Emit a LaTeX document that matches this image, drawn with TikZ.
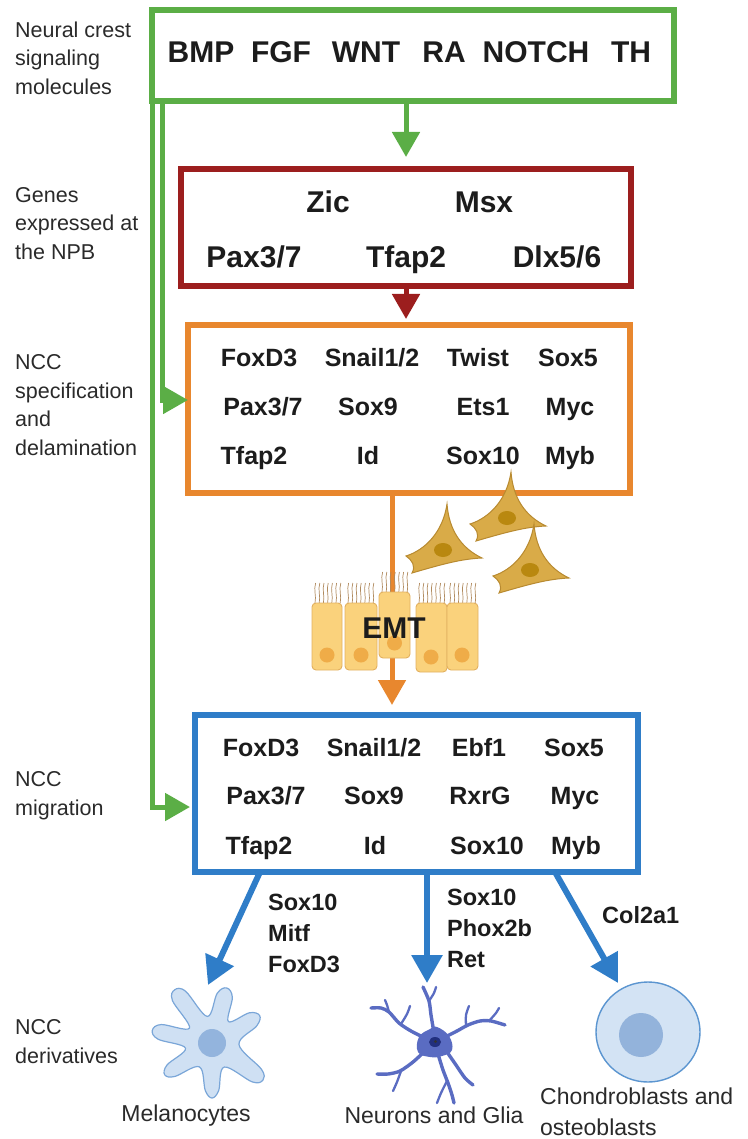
\documentclass[tikz,border=0pt]{standalone}
\usepackage{fontspec}
\setmainfont{Liberation Sans}
\usetikzlibrary{arrows.meta,calc}

\definecolor{sigGreen}{HTML}{5BAE46}
\definecolor{npbRed}{HTML}{9C1E1E}
\definecolor{specOrange}{HTML}{E8872E}
\definecolor{migBlue}{HTML}{2F7DC8}
\definecolor{inkText}{HTML}{1C1C1C}
\definecolor{labelText}{HTML}{2A2A2A}
\definecolor{mesFill}{HTML}{D9AB48}
\definecolor{mesEdge}{HTML}{B88A30}
\definecolor{mesNuc}{HTML}{B98810}
\definecolor{epiFill}{HTML}{FAD27C}
\definecolor{epiEdge}{HTML}{E2B060}
\definecolor{epiNuc}{HTML}{EFAC48}
\definecolor{ciliaCol}{HTML}{B08A5E}
\definecolor{melFill}{HTML}{CFE0F3}
\definecolor{melEdge}{HTML}{7AA6D8}
\definecolor{melNuc}{HTML}{93B4DD}
\definecolor{neuFill}{HTML}{5A6CC2}
\definecolor{neuNuc}{HTML}{22307E}
\definecolor{chFill}{HTML}{D3E3F4}
\definecolor{chEdge}{HTML}{5B95D0}
\definecolor{chNuc}{HTML}{93B3DB}

\tikzset{
  stagebox/.style={draw=#1, line width=5.5pt, minimum width=0pt, minimum height=0pt,
    inner sep=0pt, outer sep=0pt, rectangle},
  gene/.style={anchor=base, inner sep=0pt, text=inkText,
    font=\bfseries\fontsize{25}{29}\selectfont},
  biggene/.style={anchor=base, inner sep=0pt, text=inkText,
    font=\bfseries\fontsize{30}{34}\selectfont},
  % multi-line nodes: the base anchor sits on the last line
  marker/.style={anchor=base west, align=left, inner sep=0pt, text=inkText,
    font=\bfseries\fontsize{23.5}{31}\selectfont},
  sidelabel/.style={anchor=base west, align=left, inner sep=0pt, text=labelText,
    font=\fontsize{21.5}{28.5}\selectfont},
  celllabel/.style={inner sep=0pt, text=labelText,
    font=\fontsize{23}{31}\selectfont},
  link/.style={line width=5pt, draw=#1, -{Triangle[width=27pt,length=25pt]}},
  cilia/.style={draw=ciliaCol, line width=0.7pt},
  epi/.style={fill=epiFill, draw=epiEdge, line width=0.9pt, rounded corners=4pt},
  dend/.style={draw=neuFill, line width=3.4pt, line cap=round, line join=round},
  dendb/.style={draw=neuFill, line width=2.3pt, line cap=round, line join=round},
  mesen/.pic={
    \path[fill=mesFill, draw=mesEdge, line width=1pt]
      (4,-46) .. controls (6,-20) and (18,-2) .. (39,8)
      .. controls (18,9) and (0,14) .. (-31,23)
      .. controls (-27,16) and (-31,10) .. (-37,6)
      .. controls (-18,0) and (0,-18) .. cycle;
    \fill[mesNuc] (0,0) ellipse [x radius=9, y radius=7];
  }
}

\begin{document}
\begin{tikzpicture}[x=1pt, y=-1pt]
\useasboundingbox (0,0) rectangle (747,1139);

% ---- stage boxes ----
\node[stagebox=sigGreen, minimum width=522pt, minimum height=91pt] (sig) at (413,55.5) {};
\node[stagebox=npbRed, minimum width=450pt, minimum height=117pt] (npb) at (406,227.5) {};
\node[stagebox=specOrange, minimum width=442pt, minimum height=168pt] (spec) at (409,409) {};
\node[stagebox=migBlue, minimum width=443pt, minimum height=157pt] (mig) at (416.5,793.5) {};

% ---- side labels ----
\node[sidelabel] (lsig) at (15,94.5) {Neural crest\\signaling\\molecules};
\node[sidelabel] (lnpb) at (15,259.5) {Genes\\expressed at\\the NPB};
\node[sidelabel] (lspec) at (15,455) {NCC\\specification\\and\\delamination};
\node[sidelabel] (lmig) at (15,815) {NCC\\migration};
\node[sidelabel] (lder) at (15,1063) {NCC\\derivatives};

% ---- signaling molecules ----
\node[biggene] (bmp) at (201,62.7) {BMP};
\node[biggene] (fgf) at (281,62.7) {FGF};
\node[biggene] (wnt) at (366,62.7) {WNT};
\node[biggene] (ra) at (444,62.7) {RA};
\node[biggene] (notch) at (536,62.7) {NOTCH};
\node[biggene] (th) at (631,62.7) {TH};

% ---- neural plate border genes ----
\node[biggene] (zic) at (328,212.7) {Zic};
\node[biggene] (msx) at (484,212.7) {Msx};
\node[biggene] (pax) at (254,267.7) {Pax3/7};
\node[biggene] (tfap) at (406,267.7) {Tfap2};
\node[biggene] (dlx) at (557,267.7) {Dlx5/6};

% ---- specification genes ----
\node[gene] (s11) at (259,366) {FoxD3};
\node[gene] (s12) at (372,366) {Snail1/2};
\node[gene] (s13) at (478,366) {Twist};
\node[gene] (s14) at (568,366) {Sox5};
\node[gene] (s21) at (263,415) {Pax3/7};
\node[gene] (s22) at (368,415) {Sox9};
\node[gene] (s23) at (483,415) {Ets1};
\node[gene] (s24) at (570,415) {Myc};
\node[gene] (s31) at (254,464) {Tfap2};
\node[gene] (s32) at (368,464) {Id};
\node[gene] (s33) at (483,464) {Sox10};
\node[gene] (s34) at (570,464) {Myb};

% ---- migration genes ----
\node[gene] (m11) at (261,756) {FoxD3};
\node[gene] (m12) at (374,756) {Snail1/2};
\node[gene] (m13) at (479,756) {Ebf1};
\node[gene] (m14) at (574,756) {Sox5};
\node[gene] (m21) at (266,804) {Pax3/7};
\node[gene] (m22) at (374,804) {Sox9};
\node[gene] (m23) at (480,804) {RxrG};
\node[gene] (m24) at (575,804) {Myc};
\node[gene] (m31) at (259,854) {Tfap2};
\node[gene] (m32) at (375,854) {Id};
\node[gene] (m33) at (487,854) {Sox10};
\node[gene] (m34) at (576,854) {Myb};

% ---- green signaling connectors ----
\draw[link=sigGreen, shorten >=12pt] (sig.south -| npb.north) -- (npb.north);
\draw[link=sigGreen, shorten >=5pt] (sig.south west) |- ($(mig.west)+(0,13.5)$);
\draw[link=sigGreen] ($(sig.south west)+(10,0)$) |- ($(spec.west)+(0,-9)$);

% ---- red connector ----
\draw[link=npbRed, shorten >=6pt] (npb.south) -- (npb.south |- spec.north);

% ---- orange connector through the EMT epithelium ----
\coordinate (emtx) at (392,0);
\draw[link=specOrange, shorten >=10pt] (spec.south -| emtx) -- (mig.north -| emtx);

% ---- epithelium: cilia ----
\foreach \xa/\top in {312/603, 345/603, 379/592, 416/603, 447/603}{
  \foreach \k in {0,...,6}{
    \pgfmathsetmacro{\cx}{\xa+3+\k*4.2}
    \pgfmathsetmacro{\ty}{\top-20}
    \draw[cilia] (\cx,\top) .. controls (\cx+1.6,\top-7) and (\cx-1.6,\top-13) .. (\cx+0.6,\ty);
  }
}
% ---- epithelium: cells ----
\draw[epi] (312,603) rectangle (342,670);
\draw[epi] (345,603) rectangle (377,670);
\draw[epi] (416,603) rectangle (447,672);
\draw[epi] (447,603) rectangle (478,670);
\draw[epi] (379,592) rectangle (410,658);
\foreach \nx/\ny in {327/655, 361/655, 431/657, 462/655, 394.5/643}
  \fill[epiNuc] (\nx,\ny) circle [radius=7.5];

% ---- delaminated mesenchymal cells ----
\pic (mesA) at (443,550) {mesen};
\pic (mesB) at (507,518) {mesen};
\pic (mesC) at (530,570) {mesen};

\node[inner sep=0pt, anchor=base, text=inkText, font=\bfseries\fontsize{30}{34}\selectfont] (emt) at (394,638.7) {EMT};

% ---- derivative arrows ----
\coordinate (melTop) at (208,985);
\coordinate (neuTop) at (427,983);
\coordinate (chTop) at (618,983);
\draw[link=migBlue, line width=6pt, -{Triangle[width=30pt,length=28pt]}] ($(mig.south west)+(65,0)$) -- (melTop);
\draw[link=migBlue, line width=6pt, -{Triangle[width=30pt,length=28pt]}] ($(mig.south west)+(232,0)$) -- (neuTop);
\draw[link=migBlue, line width=6pt, -{Triangle[width=30pt,length=28pt]}] ($(mig.south west)+(360,0)$) -- (chTop);

\node[marker] (mk1) at (268,972.4) {Sox10\\Mitf\\FoxD3};
\node[marker] (mk2) at (447,967.4) {Sox10\\Phox2b\\Ret};
\node[marker] (mk3) at (602,923.4) {Col2a1};

% ---- melanocyte ----
\begin{scope}[shift={(212,1043)}]
  \draw[fill=melFill, draw=melEdge, line width=1.2pt]
    plot[smooth cycle, tension=0.6] coordinates {
      (-176:54) (-168:61) (-160:54) (-146.5:27)
      (-133:58) (-125:65) (-117:58) (-100:27)
      (-84:50) (-75:57) (-66:50) (-52.5:27)
      (-39:48) (-30:55) (-21:48) (3:27)
      (28:56) (36:63) (44:56) (63:27)
      (82:48) (90:55) (98:48) (118:27)
      (138:50) (146:57) (154:50) (169:27)};
  \fill[melNuc] (0,0) circle [radius=14];
\end{scope}

% ---- neuron ----
\begin{scope}[shift={(435,1043)}]
  \draw[dend] plot[smooth] coordinates {(-1,-10) (-4,-28) (-6,-42) (-12,-56)};
  \draw[dendb] plot[smooth] coordinates {(-6,-42) (-1,-50) (1,-56)};
  \draw[dend] plot[smooth] coordinates {(-10,-5) (-24,-12) (-36,-20) (-46,-31) (-54,-35) (-64,-35)};
  \draw[dendb] plot[smooth] coordinates {(-46,-31) (-48,-38) (-50,-43)};
  \draw[dendb] plot[smooth] coordinates {(-34,-19) (-28,-29) (-25,-37)};
  \draw[dend] plot[smooth] coordinates {(10,-6) (22,-12) (33,-18) (45,-22) (56,-22) (70,-18)};
  \draw[dendb] plot[smooth] coordinates {(31,-17) (31,-28) (34,-37)};
  \draw[dendb] plot[smooth] coordinates {(54,-22) (61,-30) (64,-35)};
  \draw[dend] plot[smooth] coordinates {(-10,8) (-22,19) (-35,28) (-47,31) (-58,31)};
  \draw[dendb] plot[smooth] coordinates {(-34,28) (-38,39) (-42,48)};
  \draw[dend] plot[smooth] coordinates {(3,11) (8,27) (13,40) (17,52) (19,60)};
  \draw[dendb] plot[smooth] coordinates {(12,38) (6,50) (2,60)};
  \draw[dend] plot[smooth] coordinates {(12,9) (21,22) (30,35) (38,42)};
  \fill[neuFill] plot[smooth cycle, tension=0.7] coordinates {
    (-16,-6) (-5,-14) (2,-16) (14,-7) (17,7) (7,13) (-5,14) (-17,9)};
  \fill[neuNuc] (0,-1) ellipse [x radius=6, y radius=5];
  \fill[black!80] (0.5,-1.5) circle [radius=1.6];
\end{scope}

% ---- chondroblast ----
\draw[fill=chFill, draw=chEdge, line width=1.4pt] (648,1032) ellipse [x radius=52, y radius=50];
\fill[chNuc] (641,1035) circle [radius=22];

% ---- derivative names ----
\node[celllabel, anchor=base] (melName) at (186,1121) {Melanocytes};
\node[celllabel, anchor=base] (neuName) at (434,1123) {Neurons and Glia};
\node[celllabel, anchor=base west, align=left] (chName) at (540,1135) {Chondroblasts and\\osteoblasts};

\end{tikzpicture}
\end{document}
